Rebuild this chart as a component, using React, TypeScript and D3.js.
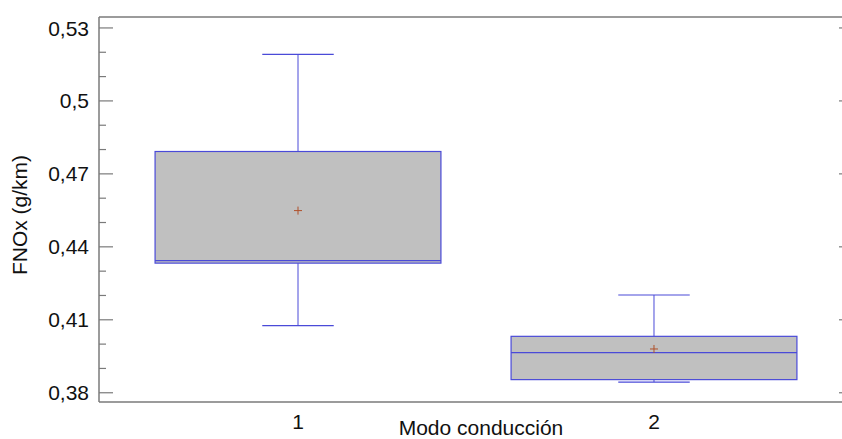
import React, { useEffect } from 'react';
import * as d3 from 'd3';

// Box-and-whisker summary per driving mode
const categories = ['1', '2'];
const whiskerLow = [0.4076, 0.3844];
const q1 = [0.4333, 0.3854];
const median = [0.4343, 0.3965];
const q3 = [0.4792, 0.4032];
const whiskerHigh = [0.5191, 0.4202];
const means = [0.4549, 0.398];

const yTicks = [0.38, 0.41, 0.44, 0.47, 0.5, 0.53];
const yMinorTicks = [0.39, 0.4, 0.42, 0.43, 0.45, 0.46, 0.48, 0.49, 0.51, 0.52];

const width = 842;
const height = 439;
const margin = { left: 99, top: 17, right: 853, bottom: 402 };

const BOX_STROKE = '#4a4ad8';
const AXIS = '#7a7a7a';
const FONT = '"Liberation Sans", Arial, sans-serif';

const fmt = d3.formatLocale({ decimal: ',', thousands: '.', grouping: [3], currency: ['', ''] }).format('~g');

const App = () => {
  useEffect(() => {
    document.body.style.margin = '0';
  }, []);

  const y = d3.scaleLinear().domain([0.3762, 0.5345]).range([margin.bottom, margin.top]);
  const x = d3.scalePoint<string>().domain(categories).range([margin.left, margin.right]).padding(0.559);
  const boxW = x.step() * 0.803;
  const capW = boxW * 0.25;

  return (
    <svg width={width} height={height} style={{ display: 'block', fontFamily: FONT }}>
      {/* frame: left, top, bottom */}
      <line x1={margin.left} x2={margin.left} y1={margin.top} y2={margin.bottom} stroke={AXIS} strokeWidth={1.5} />
      <line x1={margin.left} x2={width} y1={margin.top} y2={margin.top} stroke={AXIS} strokeWidth={1.5} />
      <line x1={margin.left} x2={width} y1={margin.bottom} y2={margin.bottom} stroke={AXIS} strokeWidth={1.5} />

      {/* y ticks left and right */}
      {yTicks.map(t => (
        <g key={'t' + t}>
          <line x1={margin.left} x2={margin.left + 14} y1={y(t)} y2={y(t)} stroke={AXIS} strokeWidth={1.2} />
          <line x1={margin.right - 14} x2={margin.right} y1={y(t)} y2={y(t)} stroke={AXIS} strokeWidth={1.2} />
          <text x={89} y={y(t)} dy="0.36em" textAnchor="end" fontSize={21} fill="#111">{fmt(t)}</text>
        </g>
      ))}
      {yMinorTicks.map(t => (
        <line key={'m' + t} x1={margin.left} x2={margin.left + 7} y1={y(t)} y2={y(t)} stroke={AXIS} strokeWidth={1.2} />
      ))}

      {/* boxes */}
      {categories.map((c, i) => {
        const cx = x(c) as number;
        return (
          <g key={c}>
            <line x1={cx} x2={cx} y1={y(q3[i])} y2={y(whiskerHigh[i])} stroke={BOX_STROKE} strokeWidth={1} />
            <line x1={cx} x2={cx} y1={y(q1[i])} y2={y(whiskerLow[i])} stroke={BOX_STROKE} strokeWidth={1} />
            <line x1={cx - capW / 2} x2={cx + capW / 2} y1={y(whiskerHigh[i])} y2={y(whiskerHigh[i])} stroke={BOX_STROKE} strokeWidth={1.2} />
            <line x1={cx - capW / 2} x2={cx + capW / 2} y1={y(whiskerLow[i])} y2={y(whiskerLow[i])} stroke={BOX_STROKE} strokeWidth={1.2} />
            <rect x={cx - boxW / 2} y={y(q3[i])} width={boxW} height={y(q1[i]) - y(q3[i])} fill="#c0c0c0" stroke={BOX_STROKE} strokeWidth={1.2} />
            <line x1={cx - boxW / 2} x2={cx + boxW / 2} y1={y(median[i])} y2={y(median[i])} stroke={BOX_STROKE} strokeWidth={1.2} />
            <line x1={cx - 4} x2={cx + 4} y1={y(means[i])} y2={y(means[i])} stroke="#b0502a" strokeWidth={1} />
            <line x1={cx} x2={cx} y1={y(means[i]) - 4} y2={y(means[i]) + 4} stroke="#b0502a" strokeWidth={1} />
            <text x={cx} y={421} dy="0.36em" textAnchor="middle" fontSize={21} fill="#111">{c}</text>
          </g>
        );
      })}

      {/* axis titles */}
      <text x={481} y={435} textAnchor="middle" fontSize={21} fill="#111">Modo conducción</text>
      <text transform={`translate(27, 215) rotate(-90)`} textAnchor="middle" fontSize={21} fill="#111">FNOx (g/km)</text>
    </svg>
  );
};

export default App;
